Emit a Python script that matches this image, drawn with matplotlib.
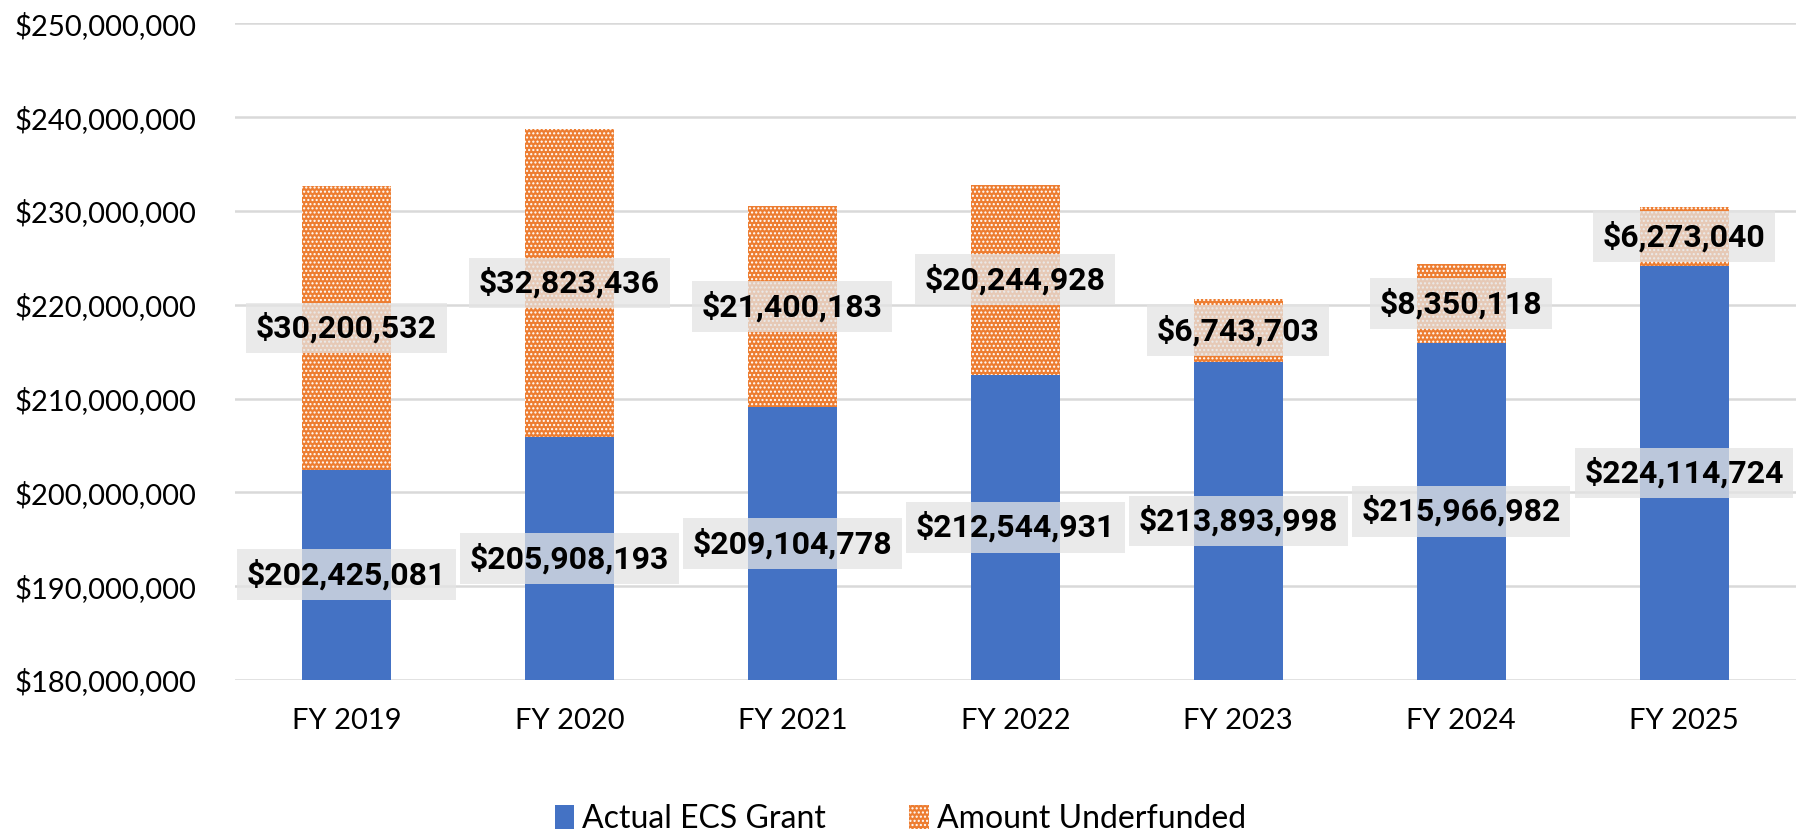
import matplotlib.pyplot as plt
from matplotlib.ticker import FuncFormatter, MultipleLocator

years = ["FY 2019", "FY 2020", "FY 2021", "FY 2022", "FY 2023", "FY 2024", "FY 2025"]
actual_grant = [202425081, 205908193, 209104778, 212544931, 213893998, 215966982, 224114724]
underfunded = [30200532, 32823436, 21400183, 20244928, 6743703, 8350118, 6273040]

BLUE = "#4472C4"
ORANGE = "#ED7D31"

plt.rcParams["font.family"] = ["Lato", "DejaVu Sans"]
plt.rcParams["hatch.linewidth"] = 1.0

fig = plt.figure(figsize=(18.01, 8.34), dpi=100)
ax = fig.add_axes([0.1305, 0.1847, 0.8665, 0.7873])

x = range(len(years))
base = 180000000
bottom_heights = [a - base for a in actual_grant]
ax.bar(x, bottom_heights, bottom=base, width=0.4, color=BLUE, zorder=2, label="Actual ECS Grant")
ax.bar(x, underfunded, bottom=actual_grant, width=0.4, facecolor=ORANGE, edgecolor="white",
       hatch="....", linewidth=0, zorder=2, label="Amount Underfunded")

box = dict(boxstyle="square,pad=0.3", facecolor="#E4E4E4", edgecolor="none", alpha=0.75)
for i in x:
    a = actual_grant[i]
    u = underfunded[i]
    ax.text(i, (base + a) / 2, f"${a:,}", ha="center", va="center", fontsize=23,
            fontweight="bold", family=["Roboto", "DejaVu Sans"], bbox=box, zorder=3)
    ax.text(i, a + u / 2, f"${u:,}", ha="center", va="center", fontsize=23,
            fontweight="bold", family=["Roboto", "DejaVu Sans"], bbox=box, zorder=3)

ax.set_ylim(180000000, 250000000)
ax.set_xlim(-0.5, len(years) - 0.5)
ax.yaxis.set_major_locator(MultipleLocator(10000000))
ax.yaxis.set_major_formatter(FuncFormatter(lambda v, p: f"${v:,.0f}"))
ax.set_xticks(list(x))
ax.set_xticklabels(years)
ax.tick_params(axis="both", length=0, labelsize=21, colors="black")
ax.tick_params(axis="x", pad=20)
ax.tick_params(axis="y", pad=28)
ax.grid(axis="y", color="#D9D9D9", linewidth=1.8, zorder=0)
for s in ax.spines.values():
    s.set_visible(False)

fig.legend(loc="center", bbox_to_anchor=(0.5, 0.018), ncol=2, frameon=False, fontsize=23,
           handlelength=0.6, handleheight=0.75, columnspacing=2.6, handletextpad=0.25)

fig.savefig("out.png", dpi=100)
